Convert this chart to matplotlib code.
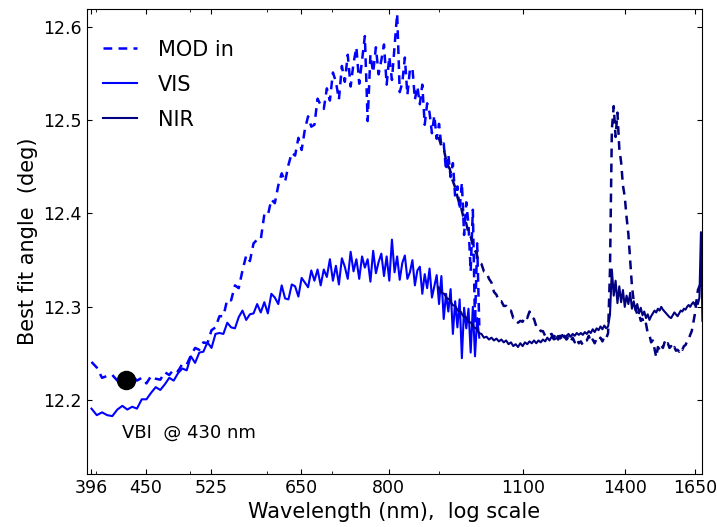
import numpy as np
import matplotlib
matplotlib.use('Agg')
import matplotlib.pyplot as plt
from matplotlib.ticker import FixedLocator, FixedFormatter, NullFormatter, LogLocator

plt.rcParams['font.family'] = ['DejaVu Sans']
plt.rcParams['xtick.direction'] = 'in'
plt.rcParams['ytick.direction'] = 'in'
plt.rcParams['xtick.top'] = True
plt.rcParams['ytick.right'] = True
plt.rcParams['xtick.major.size'] = 3.5
plt.rcParams['ytick.major.size'] = 3.5
plt.rcParams['xtick.minor.size'] = 2
plt.rcParams['ytick.minor.size'] = 2

# VIS band, 396..991 nm every 5 nm
vis_start, vis_step = 396, 5
vis_fit = [
    12.191, 12.184, 12.187, 12.184, 12.183, 12.190, 12.194, 12.190, 12.193, 12.191,
    12.201, 12.201, 12.208, 12.214, 12.211, 12.217, 12.224, 12.221, 12.229, 12.234,
    12.232, 12.247, 12.240, 12.251, 12.252, 12.262, 12.256, 12.271, 12.272, 12.271,
    12.283, 12.278, 12.277, 12.289, 12.296, 12.286, 12.292, 12.293, 12.303, 12.294,
    12.305, 12.293, 12.314, 12.310, 12.303, 12.323, 12.309, 12.308, 12.324, 12.322,
    12.311, 12.331, 12.326, 12.321, 12.339, 12.328, 12.340, 12.323, 12.340, 12.332,
    12.351, 12.328, 12.344, 12.324, 12.352, 12.343, 12.330, 12.359, 12.338, 12.351,
    12.330, 12.354, 12.342, 12.351, 12.327, 12.360, 12.336, 12.348, 12.357, 12.333,
    12.354, 12.328, 12.372, 12.337, 12.354, 12.329, 12.347, 12.355, 12.330, 12.337,
    12.350, 12.323, 12.339, 12.343, 12.314, 12.335, 12.320, 12.341, 12.310, 12.322,
    12.334, 12.303, 12.333, 12.287, 12.314, 12.295, 12.319, 12.271, 12.306, 12.278,
    12.308, 12.245, 12.299, 12.277, 12.298, 12.251, 12.300, 12.247, 12.288, 12.267,
]
vis_mod = [
    12.241, 12.235, 12.224, 12.226, 12.227, 12.221, 12.223, 12.219, 12.226, 12.221,
    12.224, 12.218, 12.226, 12.223, 12.222, 12.230, 12.227, 12.233, 12.231, 12.239,
    12.238, 12.248, 12.256, 12.254, 12.262, 12.261, 12.275, 12.278, 12.290, 12.290,
    12.308, 12.307, 12.323, 12.320, 12.339, 12.355, 12.349, 12.368, 12.372, 12.372,
    12.399, 12.398, 12.415, 12.411, 12.430, 12.443, 12.434, 12.452, 12.465, 12.462,
    12.481, 12.468, 12.490, 12.504, 12.493, 12.495, 12.523, 12.516, 12.512, 12.534,
    12.521, 12.551, 12.541, 12.522, 12.558, 12.541, 12.570, 12.536, 12.561, 12.578,
    12.539, 12.564, 12.590, 12.499, 12.570, 12.551, 12.578, 12.549, 12.564, 12.581,
    12.538, 12.568, 12.543, 12.579, 12.614, 12.530, 12.540, 12.567, 12.527, 12.554,
    12.556, 12.522, 12.536, 12.517, 12.538, 12.495, 12.518, 12.508, 12.486, 12.505,
    12.480, 12.496, 12.472, 12.475, 12.446, 12.463, 12.439, 12.454, 12.418, 12.429,
    12.404, 12.433, 12.377, 12.412, 12.388, 12.338, 12.404, 12.282, 12.368, 12.280,
]

# NIR band, 900..1680 nm every 6 nm
nir_start, nir_step = 900, 6
nir_fit = [
    12.321, 12.315, 12.314, 12.309, 12.308, 12.302, 12.301, 12.296, 12.295, 12.290,
    12.289, 12.284, 12.283, 12.278, 12.277, 12.272, 12.271, 12.267, 12.268, 12.265,
    12.267, 12.264, 12.266, 12.263, 12.265, 12.262, 12.264, 12.260, 12.262, 12.258,
    12.260, 12.257, 12.261, 12.258, 12.262, 12.260, 12.263, 12.261, 12.264, 12.261,
    12.264, 12.262, 12.265, 12.263, 12.267, 12.264, 12.268, 12.265, 12.266, 12.269,
    12.266, 12.270, 12.267, 12.269, 12.271, 12.268, 12.271, 12.269, 12.272, 12.270,
    12.272, 12.270, 12.273, 12.271, 12.274, 12.272, 12.276, 12.273, 12.277, 12.275,
    12.279, 12.276, 12.280, 12.277, 12.279, 12.292, 12.340, 12.312, 12.328, 12.304,
    12.322, 12.305, 12.318, 12.300, 12.312, 12.303, 12.315, 12.298, 12.306, 12.296,
    12.303, 12.293, 12.299, 12.291, 12.295, 12.288, 12.292, 12.286, 12.290, 12.293,
    12.296, 12.294, 12.298, 12.296, 12.300, 12.297, 12.295, 12.293, 12.291, 12.289,
    12.288, 12.291, 12.294, 12.292, 12.290, 12.293, 12.296, 12.295, 12.298, 12.297,
    12.300, 12.302, 12.300, 12.303, 12.305, 12.302, 12.306, 12.303, 12.310, 12.380,
    12.285,
]
nir_mod = [
    12.482, 12.472, 12.467, 12.453, 12.448, 12.436, 12.428, 12.416, 12.409, 12.397,
    12.391, 12.379, 12.374, 12.362, 12.358, 12.348, 12.346, 12.338, 12.337, 12.330,
    12.326, 12.316, 12.313, 12.306, 12.306, 12.301, 12.301, 12.296, 12.296, 12.288,
    12.288, 12.283, 12.285, 12.284, 12.290, 12.288, 12.295, 12.289, 12.287, 12.279,
    12.279, 12.274, 12.274, 12.269, 12.271, 12.270, 12.271, 12.267, 12.271, 12.265,
    12.269, 12.264, 12.269, 12.265, 12.268, 12.263, 12.267, 12.262, 12.266, 12.261,
    12.263, 12.259, 12.263, 12.264, 12.269, 12.262, 12.265, 12.261, 12.266, 12.264,
    12.267, 12.263, 12.268, 12.266, 12.272, 12.340, 12.490, 12.515, 12.482, 12.508,
    12.470, 12.455, 12.430, 12.418, 12.396, 12.378, 12.350, 12.322, 12.306, 12.298,
    12.292, 12.293, 12.285, 12.287, 12.280, 12.282, 12.272, 12.270, 12.262, 12.264,
    12.255, 12.246, 12.257, 12.254, 12.259, 12.256, 12.262, 12.258, 12.261, 12.256,
    12.258, 12.254, 12.257, 12.253, 12.254, 12.252, 12.256, 12.254, 12.258, 12.259,
    12.263, 12.265, 12.270, 12.274, 12.283, 12.292, 12.305, 12.318, 12.322, 12.325,
    12.330,
]

vbi_wl, vbi_angle = 430, 12.222
xticks = [396, 450, 525, 650, 800, 1100, 1400, 1650]
yticks = [12.2, 12.3, 12.4, 12.5, 12.6]

wl_vis = vis_start + vis_step * np.arange(len(vis_fit))
wl_nir = nir_start + nir_step * np.arange(len(nir_fit))

fig = plt.figure(figsize=(7.17, 5.27), dpi=100)
ax = fig.add_axes([0.121, 0.1006, 0.858, 0.8823])

ax.plot(wl_vis, vis_mod, color='b', lw=1.8, dashes=(3.5, 2.5), label='MOD in')
ax.plot(wl_vis, vis_fit, color='b', lw=1.5, label='VIS')
ax.plot(wl_nir, nir_mod, color='navy', lw=1.8, dashes=(3.5, 2.5))
ax.plot(wl_nir, nir_fit, color='navy', lw=1.5, label='NIR')
ax.plot([vbi_wl], [vbi_angle], 'o', color='k', ms=13)
ax.text(426, 12.165, 'VBI  @ 430 nm', fontsize=13, va='center', ha='left')

ax.set_xscale('log')
ax.set_xlim(391.6, 1678)
ax.set_ylim(12.121, 12.619)
ax.xaxis.set_major_locator(FixedLocator(xticks))
ax.xaxis.set_major_formatter(FixedFormatter([str(t) for t in xticks]))
ax.xaxis.set_minor_locator(LogLocator(subs=np.arange(2, 10)))
ax.xaxis.set_minor_formatter(NullFormatter())
ax.set_yticks(yticks)
ax.set_yticklabels(['%.1f' % v for v in yticks])
ax.tick_params(labelsize=12.5)

ax.set_xlabel('Wavelength (nm),  log scale', fontsize=15)
ax.set_ylabel('Best fit angle  (deg)', fontsize=15)

ax.legend(loc='upper left', bbox_to_anchor=(0.013, 0.952), borderaxespad=0,
          frameon=False, fontsize=15, handlelength=1.65,
          handletextpad=1.0, labelspacing=0.72)

fig.savefig('out.png', dpi=100)
